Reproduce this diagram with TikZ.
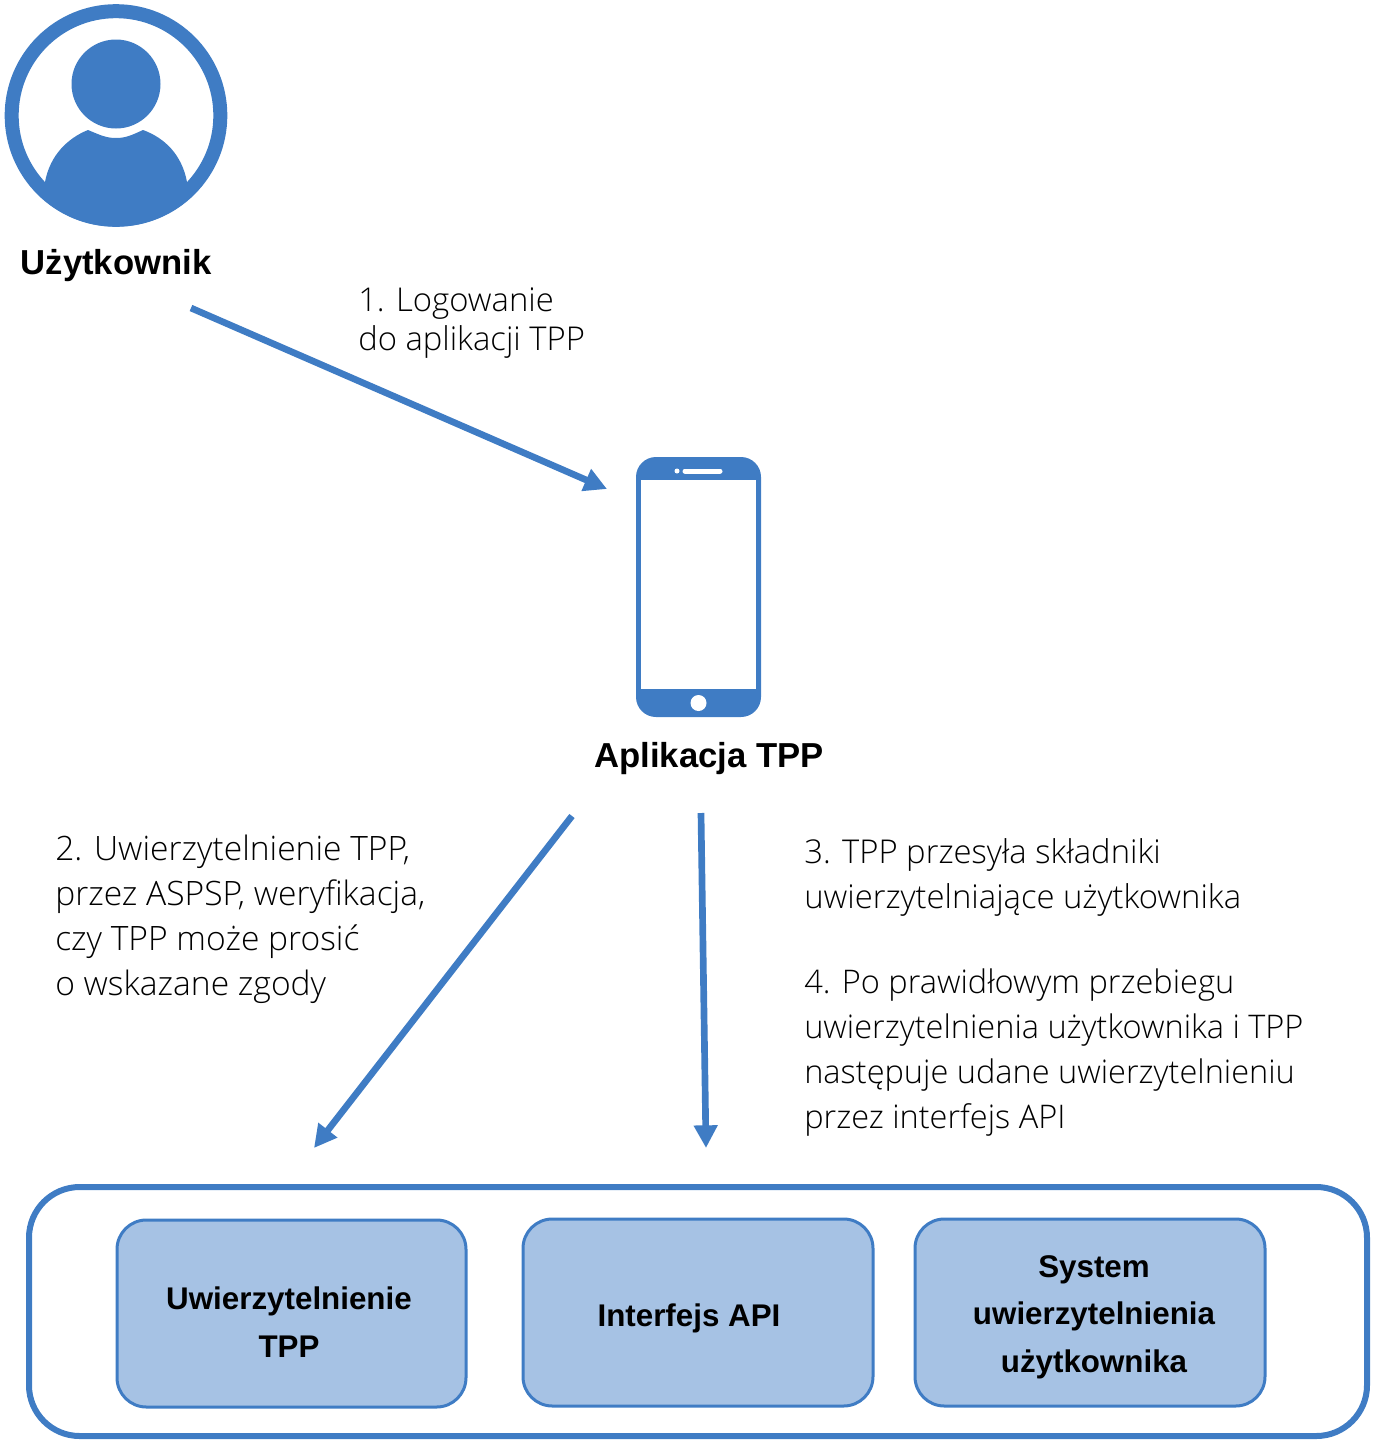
\documentclass[tikz,border=0pt]{standalone}
\usepackage{fontspec}
\setmainfont{Open Sans Light}[BoldFont={Liberation Sans Bold}]
\usetikzlibrary{arrows.meta}
\definecolor{ablue}{HTML}{3F7CC4}
\definecolor{afill}{HTML}{A6C2E4}
\tikzset{
  px/.style={x=0.75pt,y=-0.75pt},
  flow/.style={draw=ablue,line width=5pt,-{Triangle[length=17pt,width=17pt]}},
  inbox/.style={draw=ablue,fill=afill,line width=2.25pt,rounded corners=22pt,anchor=north west,inner sep=0pt},
  outbox/.style={draw=ablue,line width=4.5pt,rounded corners=38pt,anchor=north west,inner sep=0pt},
  boxtxt/.style={font=\fontsize{23.5}{35.5}\bfseries\selectfont,align=center,text=black,inner sep=0pt},
  title/.style={font=\fontsize{26}{32}\bfseries\selectfont,text=black,inner sep=0pt},
  note/.style={font=\fontsize{24.6}{33.75}\selectfont,align=left,anchor=north west,inner sep=0pt,text=black},
  notewide/.style={font=\fontsize{25.2}{33.75}\selectfont,align=left,anchor=north west,inner sep=0pt,text=black},
  notetall/.style={font=\fontsize{24.4}{33.75}\selectfont,align=left,anchor=north west,inner sep=0pt,text=black},
  noteb/.style={font=\fontsize{24.6}{29.25}\selectfont,align=left,anchor=north west,inner sep=0pt,text=black}
}
\begin{document}
\begin{tikzpicture}[px]
\useasboundingbox (0,0) rectangle (1374,1447);
% user icon
\begin{scope}
\clip (116,115.5) circle [radius=111];
\fill[ablue] (45,182) .. controls (50,155) and (68,138) .. (88,130)
  .. controls (100,135) and (106,138) .. (116,138)
  .. controls (126,138) and (132,135) .. (143,130)
  .. controls (165,138) and (182,155) .. (187,182) -- (230,230) -- (0,230) -- cycle;
\end{scope}
\node[circle,draw=ablue,line width=10.5pt,minimum size=156.5pt,inner sep=0pt] (usericon) at (116,115.5) {};
\node[circle,fill=ablue,minimum size=66.75pt,inner sep=0pt] (head) at (116,84) {};
\node[title] (user) at (116,266) {Użytkownik};
% phone
\fill[ablue,rounded corners=15pt] (636,457) rectangle (761,717);
\fill[white] (641,480) rectangle (756,689);
\draw[white,line width=3.75pt,line cap=round] (685,471) -- (720,471);
\fill[white] (677,471) circle [radius=2.5];
\fill[white] (698.5,703) circle [radius=8];
\node[inner sep=0pt,minimum width=93.75pt,minimum height=195pt] (phone) at (698.5,587) {};
\node[title] (app) at (709,759) {Aplikacja TPP};
% notes
\node[noteb] (n1) at (358,287) {1. Logowanie\\do aplikacji TPP};
\node[notewide] (n2) at (55,835) {2. Uwierzytelnienie TPP,\\przez ASPSP, weryfikacja,\\czy TPP może prosić\\o wskazane zgody};
\node[note] (n3) at (804,838) {3. TPP przesyła składniki\\uwierzytelniające użytkownika};
\node[notetall] (n4) at (804,968) {4. Po prawidłowym przebiegu\\uwierzytelnienia użytkownika i TPP\\następuje udane uwierzytelnieniu\\przez interfejs API};
% boxes
\node[outbox,minimum width=1003.5pt,minimum height=186.75pt] (outer) at (26,1184) {};
\node[inbox,minimum width=261.75pt,minimum height=140.25pt] (b1) at (115.5,1218.5) {};
\node[inbox,minimum width=262.5pt,minimum height=140.25pt] (b2) at (521.5,1217.5) {};
\node[inbox,minimum width=262.5pt,minimum height=140.25pt] (b3) at (913.5,1217.5) {};
\node[boxtxt] (t1) at (289,1322) {Uwierzytelnienie\\TPP};
\node[boxtxt] (t2) at (689,1318) {Interfejs API};
\node[boxtxt] (t3) at (1094,1317) {System\\uwierzytelnienia\\użytkownika};
% connectors
\coordinate (a1s) at (191,308);
\coordinate (a1e) at (607,489);
\coordinate (a2s) at (572,816);
\coordinate (a2e) at (314,1148);
\coordinate (a3s) at (701,813);
\coordinate (a3e) at (706,1148);
\draw[flow] (a1s) -- (a1e);
\draw[flow] (a2s) -- (a2e);
\draw[flow] (a3s) -- (a3e);
\end{tikzpicture}
\end{document}
